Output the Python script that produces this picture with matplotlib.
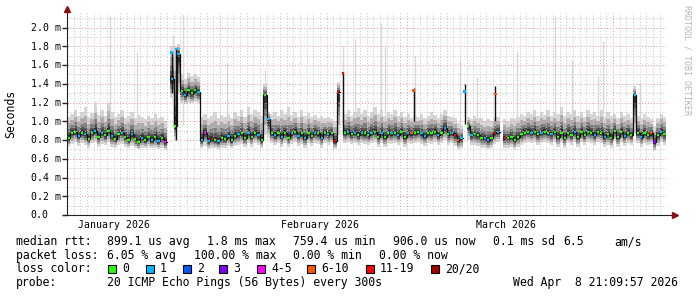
import numpy as np
import matplotlib
matplotlib.use("Agg")
import matplotlib.pyplot as plt
from matplotlib.patches import Rectangle

NA = np.nan

# ---- Datos (ms), un valor cada 12 h; dia 0 = 1 de enero de 2026 ----
T0   = 8.0
PASO = 0.5

mediana = [
    0.82, 0.88, 0.89, 0.84, 0.88, 0.86, 0.81, 0.88, 0.90, 0.83,   # 8.0
    0.88, 0.85, 0.90, 0.84, 0.81, 0.86, 0.88, 0.83, 0.80, 0.86,   # 13.0
    0.81, 0.78, 0.82, 0.80, 0.83, 0.80, 0.83, 0.79, 0.82, 0.78,   # 18.0
    NA,   1.45, 0.95, 1.72, 1.32, 1.28, 1.33, 1.30, 1.33, 1.31,   # 23.0
    0.80, 0.88, 0.79, 0.81, 0.80, 0.79, 0.82, 0.81, 0.84, 0.80,   # 28.0
    0.84, 0.86, 0.87, 0.82, 0.88, 0.83, 0.88, 0.85, 0.80, 1.28,   # 33.0
    1.02, 0.88, 0.85, 0.88, 0.83, 0.88, 0.82, 0.87, 0.89, 0.84,   # 38.0
    0.87, 0.82, 0.88, 0.84, 0.88, 0.87, 0.82, 0.88, 0.86, 0.88,   # 43.0
    0.79, 1.31, NA,   0.88, 0.89, 0.86, 0.88, 0.85, 0.88, 0.87,   # 48.0
    0.85, 0.88, 0.89, 0.83, 0.88, 0.83, 0.88, 0.87, 0.88, 0.85,   # 53.0
    0.89, 0.83, 0.88, 0.87, 0.88, 0.89, 0.87, 0.84, 0.88, 0.87,   # 58.0
    0.89, 0.85, 0.88, 0.93, 0.86, 0.88, 0.85, 0.80, 0.82, NA,     # 63.0
    0.95, 0.85, 0.86, 0.85, 0.82, 0.82, 0.80, 0.82, 0.88, 0.89,   # 68.0
    NA,   0.82, 0.82, 0.83, 0.80, 0.83, 0.86, 0.88, 0.89, 0.88,   # 73.0
    0.89, 0.86, 0.88, 0.89, 0.88, 0.86, 0.89, 0.83, 0.88, 0.82,   # 78.0
    0.88, 0.85, 0.89, 0.83, 0.89, 0.85, 0.89, 0.88, 0.85, 0.89,   # 83.0
    0.88, 0.83, 0.86, 0.82, 0.90, 0.83, 0.89, 0.84, 0.88, 0.85,   # 88.0
    1.28, 0.88, 0.83, 0.88, 0.85, 0.87, 0.78, 0.85, 0.89, 0.86,   # 93.0
]

perdida = [
    0, 0, 0, 1, 0, 1, 0, 0, 1, 0,
    1, 0, 0, 1, 0, 0, 1, 0, 0, 1,
    0, 0, 1, 0, 0, 1, 0, 1, 0, 4,
    0, 1, 0, 1, 0, 1, 0, 0, 0, 1,
    1, 4, 1, 6, 0, 1, 0, 0, 1, 0,
    0, 1, 0, 0, 1, 0, 0, 1, 0, 0,
    1, 0, 1, 0, 1, 0, 0, 1, 0, 1,
    0, 1, 0, 0, 1, 0, 1, 0, 1, 0,
    6, 6, 0, 0, 1, 0, 1, 0, 1, 0,
    0, 1, 0, 0, 1, 0, 0, 1, 0, 1,
    0, 0, 1, 5, 0, 0, 1, 1, 0, 0,
    0, 1, 0, 1, 0, 1, 6, 5, 1, 0,
    0, 1, 0, 0, 0, 1, 1, 0, 6, 1,
    0, 6, 0, 0, 0, 0, 0, 0, 0, 1,
    0, 0, 1, 0, 0, 1, 0, 0, 0, 0,
    0, 0, 1, 0, 0, 0, 0, 0, 1, 0,
    0, 1, 0, 0, 0, 0, 0, 1, 0, 0,
    1, 0, 1, 0, 0, 5, 3, 0, 1, 0,
]

rtt_min = [
    0.73, 0.76, 0.78, 0.74, 0.77, 0.75, 0.72, 0.77, 0.78, 0.73,
    0.76, 0.75, 0.78, 0.73, 0.72, 0.75, 0.76, 0.73, 0.71, 0.74,
    0.71, 0.70, 0.72, 0.71, 0.73, 0.71, 0.72, 0.70, 0.72, 0.69,
    NA,   1.25, 0.80, 1.30, 1.20, 1.18, 1.20, 1.19, 1.21, 1.20,
    0.72, 0.74, 0.70, 0.72, 0.71, 0.70, 0.72, 0.72, 0.74, 0.71,
    0.74, 0.75, 0.76, 0.73, 0.77, 0.73, 0.77, 0.75, 0.71, 0.85,
    0.82, 0.77, 0.75, 0.77, 0.73, 0.77, 0.73, 0.76, 0.78, 0.74,
    0.76, 0.72, 0.77, 0.74, 0.77, 0.76, 0.72, 0.77, 0.75, 0.77,
    0.70, 0.85, NA,   0.77, 0.78, 0.76, 0.77, 0.75, 0.77, 0.76,
    0.75, 0.77, 0.78, 0.73, 0.77, 0.73, 0.77, 0.76, 0.77, 0.75,
    0.78, 0.73, 0.77, 0.76, 0.77, 0.78, 0.76, 0.74, 0.77, 0.76,
    0.78, 0.75, 0.77, 0.80, 0.75, 0.77, 0.74, 0.70, 0.71, NA,
    0.80, 0.75, 0.75, 0.74, 0.72, 0.72, 0.70, 0.72, 0.76, 0.78,
    NA,   0.72, 0.72, 0.73, 0.70, 0.73, 0.75, 0.77, 0.78, 0.77,
    0.78, 0.75, 0.77, 0.78, 0.77, 0.75, 0.78, 0.73, 0.77, 0.72,
    0.77, 0.75, 0.78, 0.73, 0.78, 0.75, 0.78, 0.77, 0.75, 0.78,
    0.77, 0.73, 0.75, 0.72, 0.79, 0.73, 0.78, 0.74, 0.77, 0.75,
    0.88, 0.77, 0.73, 0.77, 0.75, 0.76, 0.68, 0.74, 0.78, 0.75,
]

rtt_sup = [
    1.05, 1.08, 1.12, 1.06, 1.10, 1.15, 1.05, 1.09, 1.18, 1.07,
    1.12, 1.06, 1.20, 1.10, 1.05, 1.08, 1.12, 1.04, 1.06, 1.10,
    1.03, 1.07, 1.05, 1.02, 1.06, 1.04, 1.08, 1.03, 1.05, 1.00,
    NA,   1.80, 1.80, 1.82, 1.50, 1.45, 1.52, 1.48, 1.50, 1.47,
    1.05, 1.08, 1.04, 1.06, 1.10, 1.03, 1.07, 1.05, 1.08, 1.04,
    1.10, 1.06, 1.12, 1.05, 1.15, 1.08, 1.12, 1.10, 1.06, 1.40,
    1.10, 1.08, 1.10, 1.06, 1.12, 1.08, 1.15, 1.07, 1.10, 1.05,
    1.12, 1.06, 1.09, 1.05, 1.07, 1.04, 1.06, 1.03, 1.05, 1.02,
    1.00, 1.42, NA,   1.08, 1.12, 1.06, 1.10, 1.14, 1.08, 1.12,
    1.06, 1.10, 1.15, 1.08, 1.12, 1.06, 1.10, 1.08, 1.12, 1.06,
    1.10, 1.05, 1.08, 1.04, 1.06, 1.05, 1.08, 1.03, 1.06, 1.10,
    1.07, 1.04, 1.08, 1.12, 1.06, 1.05, 1.03, 0.98, 0.96, NA,
    1.05, 1.02, 1.06, 1.04, 1.03, 1.00, 1.02, 1.00, 1.04, 1.05,
    NA,   1.02, 1.00, 1.04, 1.02, 1.05, 1.08, 1.06, 1.10, 1.08,
    1.12, 1.06, 1.10, 1.07, 1.12, 1.06, 1.10, 1.08, 1.15, 1.06,
    1.10, 1.08, 1.12, 1.06, 1.10, 1.05, 1.12, 1.08, 1.10, 1.06,
    1.12, 1.05, 1.10, 1.06, 1.08, 1.04, 1.10, 1.06, 1.08, 1.04,
    1.38, 1.06, 1.04, 1.08, 1.05, 1.02, 0.95, 1.04, 1.08, 1.05,
]

# picos finos (linea negra)
pico_dia   = [23.75, 24.40, 49.45, 60.05, 67.70, 72.30]
pico_desde = [1.30, 0.80, 0.88, 1.00, 0.97, 1.00]
pico_hasta = [1.75, 1.78, 1.52, 1.36, 1.40, 1.38]
pico_marca = [1.73, 1.77, 1.51, 1.33, 1.32, 1.29]
pico_perd  = [1, 1, 6, 5, 1, 5]

# pings aislados muy altos (gris claro)
alto_dia = [12.2, 14.5, 18.5, 23.9, 25.45, 32.05, 37.75, 49.5, 51.3, 55.2,
            55.8, 60.3, 67.05, 69.6, 75.6, 81.3, 83.85, 87.75, 88.5, 94.05]
alto_max = [1.22, 2.12, 1.74, 1.92, 2.14, 1.62, 1.55, 1.80, 1.88, 2.05,
            1.80, 1.70, 1.65, 1.47, 1.75, 2.12, 1.65, 1.49, 1.86, 1.42]

meses_dia = [31, 59, 90]
etiq_dia  = [15, 46, 74]
etiq_txt  = ['January 2026', 'February 2026', 'March 2026']

y_ticks = [0.0, 0.2, 0.4, 0.6, 0.8, 1.0, 1.2, 1.4, 1.6, 1.8, 2.0]
y_etiq  = ['0.0', '0.2 m', '0.4 m', '0.6 m', '0.8 m', '1.0 m',
           '1.2 m', '1.4 m', '1.6 m', '1.8 m', '2.0 m']

colores_perdida = ['#26ff00', '#00b8ff', '#0059ff', '#7e00ff',
                   '#ff00ff', '#ff5500', '#ff0000', '#a10000']
etiq_perdida = ['0', '1', '2', '3', '4-5', '6-10', '11-19', '20/20']

# ---- Figura ----
W, H = 697, 297
MONO = 'DejaVu Sans Mono'
fig = plt.figure(figsize=(W / 100, H / 100), dpi=100)
fig.patch.set_facecolor('white')

X0, X1, Y0, Y1 = 67, 665.6, 215, 13
ax = fig.add_axes([X0 / W, 1 - Y0 / H, (X1 - X0) / W, (Y0 - Y1) / H])
ax.set_xlim(8.0, 97.9)
ax.set_ylim(0, 2.155)
ax.set_axis_off()

t   = T0 + PASO * np.arange(len(mediana))
med = np.array(mediana)
lo  = np.array(rtt_min)
hi  = np.array(rtt_sup)

# humo
ax.vlines(alto_dia, 0.95, alto_max, color='#d9d9d9', lw=1.0, zorder=1.5)
capas = [(1.0, '#d6d6d6'), (0.75, '#acacac'), (0.52, '#808080'),
         (0.34, '#555555'), (0.2, '#2e2e2e')]
for f, c in capas:
    a = med - f * (med - lo)
    b = med + f ** 1.3 * (hi - med)
    ax.bar(t, b - a, bottom=a, width=PASO, align='edge', color=c,
           linewidth=0, antialiased=False, zorder=2)

# rejilla
punt = (0, (1, 2))
for d in range(9, 98):
    col = '#e39a9a' if d in meses_dia else '#c4c4c4'
    ax.axvline(d, color=col, lw=0.7, ls=punt, zorder=3)
for k in range(1, 22):
    col = '#e39a9a' if k % 2 == 0 else '#c4c4c4'
    ax.axhline(k * 0.1, color=col, lw=0.7, ls=punt, zorder=3)

# mediana
bordes = np.append(t, t[-1] + PASO)
ax.step(bordes, np.append(med, med[-1]), where='post', color='#111111',
        lw=0.9, zorder=6)
ax.vlines(pico_dia, pico_desde, pico_hasta, color='#111111', lw=1.0, zorder=6)
ax.hlines(med, t + 0.08, t + 0.42, colors=[colores_perdida[k] for k in perdida],
          lw=1.7, zorder=7)
ax.scatter(pico_dia, pico_marca, s=4, marker='s', linewidths=0,
           c=[colores_perdida[k] for k in pico_perd], zorder=8)

# ejes con flechas
ejes = dict(transform=ax.transAxes, clip_on=False, zorder=9)
ax.plot([-0.007, 1.012], [0, 0], color='#222222', lw=0.8, **ejes)
ax.plot([0, 0], [0, 1.015], color='#222222', lw=0.8, **ejes)
ax.plot([1.016], [0], marker='>', ms=4, color='#8b1010', lw=0, **ejes)
ax.plot([0], [1.02], marker='^', ms=4, color='#8b1010', lw=0, **ejes)
ax.plot(np.full(len(y_ticks), -0.003), y_ticks, marker='_', ms=4, lw=0,
        color='#222222', transform=ax.get_yaxis_transform(), clip_on=False)

esc = (Y0 - Y1) / 2.155
for v, s in zip(y_ticks, y_etiq):
    fig.text(30.5 / W, 1 - (Y0 - v * esc + 3.3) / H, s, fontsize=7.1,
             family=MONO, ha='left', va='baseline')
for d, s in zip(etiq_dia, etiq_txt):
    xp = X0 + (d - 8.0) / 89.9 * (X1 - X0)
    fig.text(xp / W, 1 - 227.5 / H, s, fontsize=7.1, family=MONO,
             ha='center', va='baseline')

fig.text(10.5 / W, 1 - 113.5 / H, 'Seconds', rotation=90, fontsize=8.3,
         family=MONO, ha='center', va='center')
fig.text(686.5 / W, 1 - 60 / H, 'RRDTOOL / TOBI OETIKER', rotation=-90,
         fontsize=6, family=MONO, color='#b4b4b4', ha='center', va='center')

# ---- leyenda ----
def txt(x, y, s):
    fig.text(x / W, 1 - y / H, s, fontsize=8.3, family=MONO,
             ha='left', va='baseline')

fila1 = [(16, 'median rtt:'), (107, '899.1 us avg'), (207, '1.8 ms max'),
         (293, '759.4 us min'), (393, '906.0 us now'), (493, '0.1 ms sd'),
         (563, '6.5'), (614, 'am/s')]
fila2 = [(16, 'packet loss:'), (107, '6.05 % avg'), (194, '100.00 % max'),
         (293, '0.00 % min'), (379, '0.00 % now')]
for x, s in fila1:
    txt(x, 245.3, s)
for x, s in fila2:
    txt(x, 258.8, s)

txt(16, 272.3, 'loss color:')
cajas_x = [108, 146, 183, 219, 257, 307, 366, 431]
for x, c, s in zip(cajas_x, colores_perdida, etiq_perdida):
    fig.add_artist(Rectangle((x / W, 1 - 273 / H), 8 / W, 8 / H,
                             transform=fig.transFigure, facecolor=c,
                             edgecolor='black', lw=0.8))
    txt(x + 14, 272.3, s)

txt(16, 285.8, 'probe:')
txt(107, 285.8, '20 ICMP Echo Pings (56 Bytes) every 300s')
txt(513, 285.8, 'Wed Apr  8 21:09:57 2026')

fig.savefig('out.png', dpi=100)
